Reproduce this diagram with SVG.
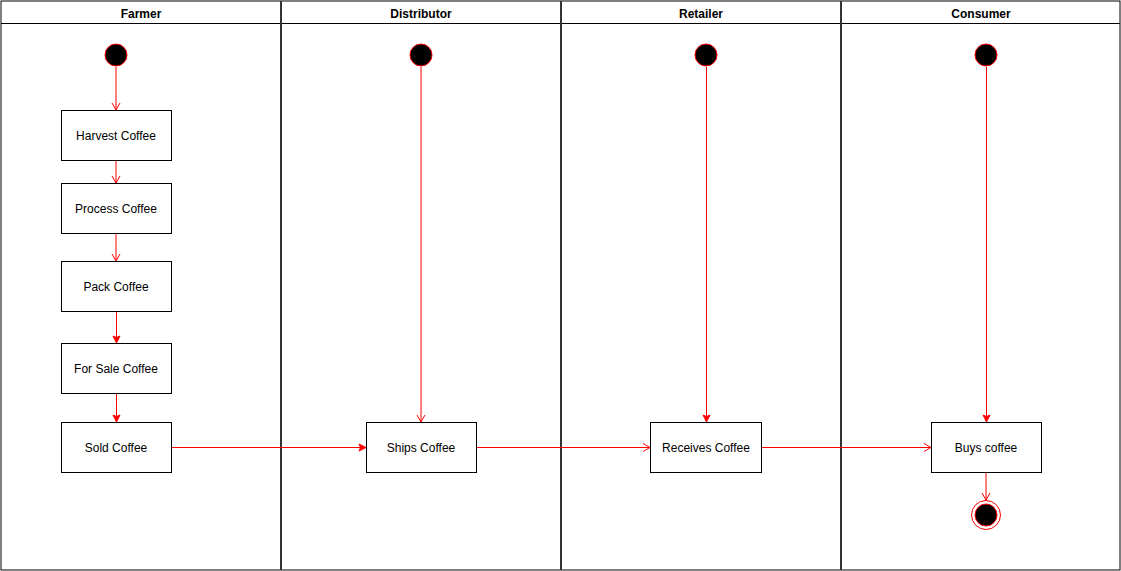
<svg xmlns="http://www.w3.org/2000/svg" width="1121" height="571" viewBox="0 0 1121 571">
<style>
.lane{fill:none;stroke:#000;stroke-width:1}
.sep{stroke:#333;stroke-width:2}
.hdr{font-family:"Liberation Sans",Arial,sans-serif;font-size:12px;font-weight:bold;text-anchor:middle;fill:#000}
.box{fill:#fff;stroke:#000;stroke-width:1}
.lbl{font-family:"Liberation Sans",Arial,sans-serif;font-size:12px;text-anchor:middle;fill:#000}
.start{fill:#000;stroke:#ff0000;stroke-width:1}
.edge{fill:none;stroke:#ff0000;stroke-width:1}
</style>
<defs>
<marker id="open" markerWidth="10" markerHeight="10" refX="8" refY="5" orient="auto" markerUnits="userSpaceOnUse">
<path d="M1,1 L8,5 L1,9" fill="none" stroke="#ff0000" stroke-width="1"/>
</marker>
<marker id="block" markerWidth="10" markerHeight="10" refX="8" refY="5" orient="auto" markerUnits="userSpaceOnUse">
<path d="M1,1.5 L8,5 L1,8.5 L2.5,5 Z" fill="#ff0000" stroke="#ff0000" stroke-width="1"/>
</marker>
</defs>
<rect width="1121" height="571" fill="#fff"/>
<g id="lanes">
<rect class="lane" x="1" y="1" width="1119" height="569"/>
<line class="lane" x1="1" y1="23.5" x2="1120" y2="23.5"/>
<line class="sep" x1="281" y1="1" x2="281" y2="570"/>
<line class="sep" x1="561" y1="1" x2="561" y2="570"/>
<line class="sep" x1="841" y1="1" x2="841" y2="570"/>
<text class="hdr" x="141" y="18">Farmer</text>
<text class="hdr" x="421" y="18">Distributor</text>
<text class="hdr" x="701" y="18">Retailer</text>
<text class="hdr" x="981" y="18">Consumer</text>
</g>
<g id="edges">
<line class="edge" x1="116" y1="67" x2="116" y2="110" marker-end="url(#open)"/>
<line class="edge" x1="116" y1="160" x2="116" y2="183" marker-end="url(#open)"/>
<line class="edge" x1="116" y1="233" x2="116" y2="261" marker-end="url(#open)"/>
<line class="edge" x1="116.5" y1="311" x2="116.5" y2="343" marker-end="url(#block)"/>
<line class="edge" x1="116.5" y1="393" x2="116.5" y2="422" marker-end="url(#block)"/>
<line class="edge" x1="171" y1="447.5" x2="366" y2="447.5" marker-end="url(#block)"/>
<line class="edge" x1="421" y1="67" x2="421" y2="422" marker-end="url(#open)"/>
<line class="edge" x1="476" y1="447.5" x2="650" y2="447.5" marker-end="url(#open)"/>
<line class="edge" x1="706.5" y1="67" x2="706.5" y2="422" marker-end="url(#block)"/>
<line class="edge" x1="761" y1="447.5" x2="931" y2="447.5" marker-end="url(#open)"/>
<line class="edge" x1="986.5" y1="67" x2="986.5" y2="422" marker-end="url(#block)"/>
<line class="edge" x1="986" y1="472" x2="986" y2="500" marker-end="url(#open)"/>
</g>
<g id="farmer-start"><circle class="start" cx="116" cy="55" r="11"/></g>
<g id="harvest"><rect class="box" x="61.5" y="110.5" width="110" height="50"/><text class="lbl" x="116" y="140">Harvest Coffee</text></g>
<g id="process"><rect class="box" x="61.5" y="183.5" width="110" height="50"/><text class="lbl" x="116" y="213">Process Coffee</text></g>
<g id="pack"><rect class="box" x="61.5" y="261.5" width="110" height="50"/><text class="lbl" x="116" y="291">Pack Coffee</text></g>
<g id="forsale"><rect class="box" x="61.5" y="343.5" width="110" height="50"/><text class="lbl" x="116" y="373">For Sale Coffee</text></g>
<g id="sold"><rect class="box" x="61.5" y="422.5" width="110" height="50"/><text class="lbl" x="116" y="452">Sold Coffee</text></g>
<g id="distributor-start"><circle class="start" cx="421" cy="55" r="11"/></g>
<g id="ships"><rect class="box" x="366.5" y="422.5" width="110" height="50"/><text class="lbl" x="421" y="452">Ships Coffee</text></g>
<g id="retailer-start"><circle class="start" cx="706" cy="55" r="11"/></g>
<g id="receives"><rect class="box" x="650.5" y="422.5" width="111" height="50"/><text class="lbl" x="706" y="452">Receives Coffee</text></g>
<g id="consumer-start"><circle class="start" cx="986" cy="55" r="11"/></g>
<g id="buys"><rect class="box" x="931.5" y="422.5" width="110" height="50"/><text class="lbl" x="986" y="452">Buys coffee</text></g>
<g id="end"><circle cx="986" cy="515" r="14.5" fill="#fff" stroke="#ff0000" stroke-width="1"/><circle cx="986" cy="515" r="11" fill="#000" stroke="#ff0000" stroke-width="1"/></g>
</svg>
